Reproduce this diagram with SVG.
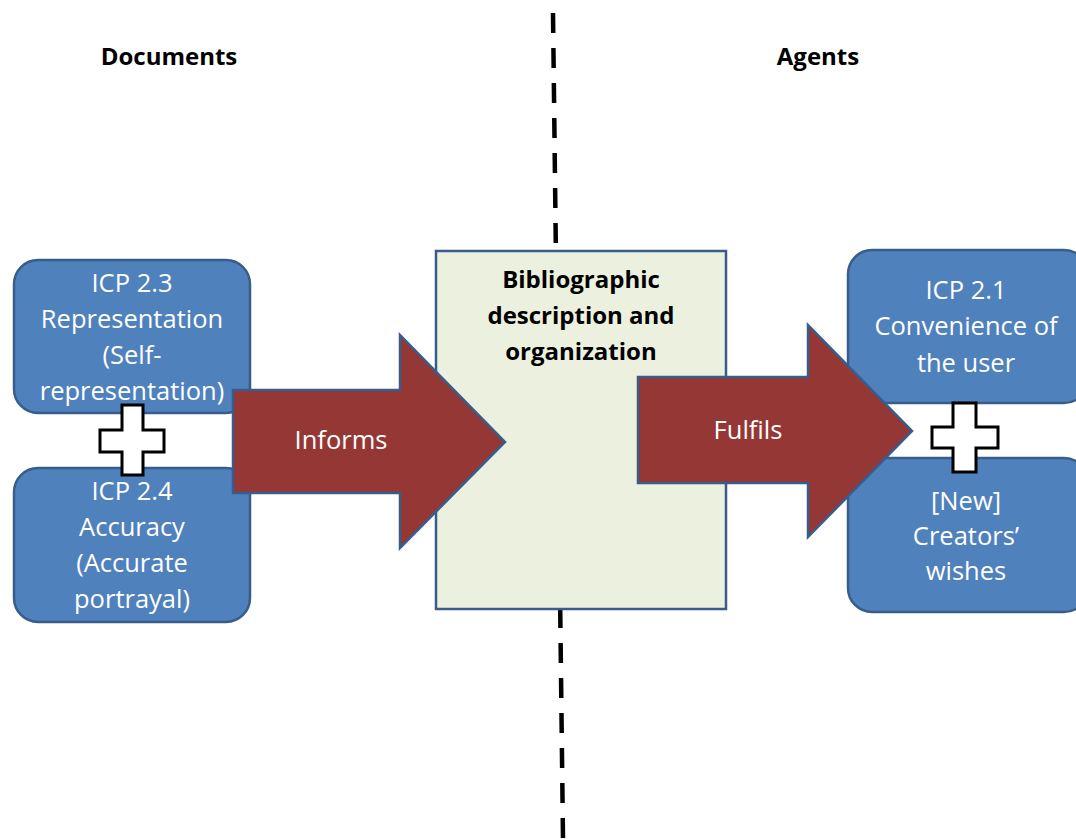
<svg xmlns="http://www.w3.org/2000/svg" width="1076" height="839" viewBox="0 0 1076 839">
<style>
.box{fill:#4F81BD;stroke:#385D8A;stroke-width:2.5}
.center{fill:#EBF1DE;stroke:#385D8A;stroke-width:2.5}
.arrow{fill:#953735;stroke:#385D8A;stroke-width:2.5}
.plus{fill:#FFFFFF;stroke:#000000;stroke-width:3}
.wt{font-family:"Open Sans","Liberation Sans",sans-serif;font-size:25.5px;fill:#FFFFFF;text-anchor:middle}
.bt{font-family:"Open Sans","Liberation Sans",sans-serif;font-size:24px;font-weight:bold;fill:#000000;text-anchor:middle}
.dash{stroke:#000000;stroke-width:4.5;stroke-dasharray:20 15;fill:none}
</style>
<rect width="1076" height="839" fill="#FFFFFF"/>
<g id="headers">
<text class="bt" x="169" y="65">Documents</text>
<text class="bt" x="818" y="65">Agents</text>
</g>
<g id="connectors">
<line class="dash" x1="553" y1="13" x2="563" y2="839"/>
</g>
<g id="center">
<rect class="center" x="436" y="251" width="290" height="358"/>
<text class="bt" x="581" y="288">Bibliographic</text>
<text class="bt" x="581" y="324">description and</text>
<text class="bt" x="581" y="360">organization</text>
</g>
<g id="icp23">
<rect class="box" x="14" y="260" width="236" height="153" rx="24"/>
<text class="wt" x="132" y="292">ICP 2.3</text>
<text class="wt" x="132" y="328">Representation</text>
<text class="wt" x="132" y="364">(Self-</text>
<text class="wt" x="132" y="400">representation)</text>
</g>
<g id="icp24">
<rect class="box" x="14" y="468" width="236" height="154" rx="24"/>
<text class="wt" x="132" y="500">ICP 2.4</text>
<text class="wt" x="132" y="536">Accuracy</text>
<text class="wt" x="132" y="572">(Accurate</text>
<text class="wt" x="132" y="608">portrayal)</text>
</g>
<g id="icp21">
<rect class="box" x="848" y="250" width="240" height="153" rx="24"/>
<text class="wt" x="966" y="299">ICP 2.1</text>
<text class="wt" x="966" y="335">Convenience of</text>
<text class="wt" x="966" y="372">the user</text>
</g>
<g id="new">
<rect class="box" x="848" y="458" width="240" height="154" rx="24"/>
<text class="wt" x="966" y="510">[New]</text>
<text class="wt" x="966" y="545">Creators’</text>
<text class="wt" x="966" y="580">wishes</text>
</g>
<g id="plus-left">
<polygon class="plus" points="122,405 143,405 143,430 164,430 164,452 143,452 143,475 122,475 122,452 100,452 100,430 122,430"/>
</g>
<g id="plus-right">
<polygon class="plus" points="953,403 976,403 976,427 998,427 998,448 976,448 976,472 953,472 953,448 932,448 932,427 953,427"/>
</g>
<g id="informs">
<polygon class="arrow" points="233,390 400,390 400,335 505,442 400,548 400,493 233,493"/>
<text class="wt" x="341" y="449">Informs</text>
</g>
<g id="fulfils">
<polygon class="arrow" points="638,377 808,377 808,325 912,431 808,537 808,483 638,483"/>
<text class="wt" x="748" y="439">Fulfils</text>
</g>
</svg>
